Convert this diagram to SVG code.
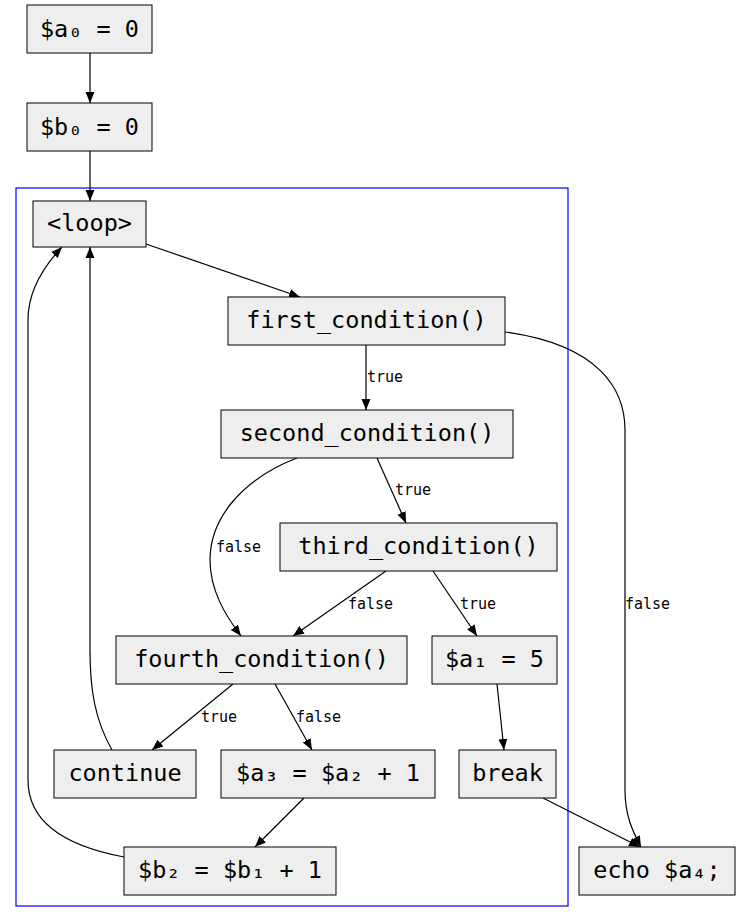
<svg xmlns="http://www.w3.org/2000/svg" width="741" height="923" viewBox="0 0 741 923">
<style>
.n rect{fill:#eeeeee;stroke:#000;stroke-width:1}
.n text{font-family:"DejaVu Sans Mono","Liberation Mono",monospace;font-size:23.5px;text-anchor:middle;dominant-baseline:central;fill:#000}
.e path{fill:none;stroke:#000;stroke-width:1.2}
.l{font-family:"DejaVu Sans Mono","Liberation Mono",monospace;font-size:15px;fill:#000}
</style>
<defs><marker id="a" markerWidth="12" markerHeight="12" refX="11" refY="6" orient="auto" markerUnits="userSpaceOnUse"><path d="M0,1.5 L11,6 L0,10.5 Z" fill="#000"/></marker></defs>
<rect x="16" y="188" width="552" height="718" fill="none" stroke="#0000ff" stroke-width="1.2"/>
<g class="e">
<path marker-end="url(#a)" d="M90,53 L90,103"/>
<path marker-end="url(#a)" d="M90,151 L90,201"/>
<path marker-end="url(#a)" d="M146,244 L300,297"/>
<path marker-end="url(#a)" d="M366,345 L366,410"/>
<path marker-end="url(#a)" d="M505,332 C600,345 625,390 625,430 L625,790 C625,815 632,830 641,847"/>
<path marker-end="url(#a)" d="M377,458 L406,523"/>
<path marker-end="url(#a)" d="M297,458 C240,480 210,520 210,560 C210,590 225,615 241,636"/>
<path marker-end="url(#a)" d="M386,571 L293,636"/>
<path marker-end="url(#a)" d="M433,571 L477,636"/>
<path marker-end="url(#a)" d="M233,684 L152,750"/>
<path marker-end="url(#a)" d="M275,684 L312,750"/>
<path marker-end="url(#a)" d="M497,684 L504,750"/>
<path marker-end="url(#a)" d="M543,798 L640,847"/>
<path marker-end="url(#a)" d="M304,798 L255,847"/>
<path marker-end="url(#a)" d="M112,750 C95,720 90,690 90,650 L90,247"/>
<path marker-end="url(#a)" d="M124,857 C60,845 28,820 28,780 L28,320 C28,290 45,265 62,247"/>
</g>
<g>
<text class="l" x="367" y="382">true</text>
<text class="l" x="625" y="609">false</text>
<text class="l" x="395" y="495">true</text>
<text class="l" x="216" y="552">false</text>
<text class="l" x="348" y="609">false</text>
<text class="l" x="460" y="609">true</text>
<text class="l" x="201" y="722">true</text>
<text class="l" x="296" y="722">false</text>
</g>
<g id="a0" class="n"><rect x="27" y="5" width="125" height="48"/><text x="89.5" y="29">$a₀ = 0</text></g>
<g id="b0" class="n"><rect x="27" y="103" width="125" height="48"/><text x="89.5" y="127">$b₀ = 0</text></g>
<g id="loop" class="n"><rect x="33" y="201" width="113" height="46"/><text x="89.5" y="223">&lt;loop&gt;</text></g>
<g id="first" class="n"><rect x="228" y="297" width="277" height="48"/><text x="366.5" y="320">first_condition()</text></g>
<g id="second" class="n"><rect x="221" y="410" width="292" height="48"/><text x="367" y="433">second_condition()</text></g>
<g id="third" class="n"><rect x="280" y="523" width="277" height="48"/><text x="418.5" y="546">third_condition()</text></g>
<g id="fourth" class="n"><rect x="116" y="636" width="291" height="48"/><text x="261.5" y="659">fourth_condition()</text></g>
<g id="a1" class="n"><rect x="432" y="636" width="125" height="48"/><text x="494.5" y="659">$a₁ = 5</text></g>
<g id="continue" class="n"><rect x="54" y="750" width="142" height="48"/><text x="125" y="773">continue</text></g>
<g id="a3" class="n"><rect x="221" y="750" width="214" height="48"/><text x="328" y="773">$a₃ = $a₂ + 1</text></g>
<g id="break" class="n"><rect x="459" y="750" width="97" height="48"/><text x="507.5" y="773">break</text></g>
<g id="b2" class="n"><rect x="124" y="847" width="212" height="48"/><text x="230" y="870">$b₂ = $b₁ + 1</text></g>
<g id="echo" class="n"><rect x="579" y="847" width="156" height="48"/><text x="657" y="870">echo $a₄;</text></g>
</svg>
